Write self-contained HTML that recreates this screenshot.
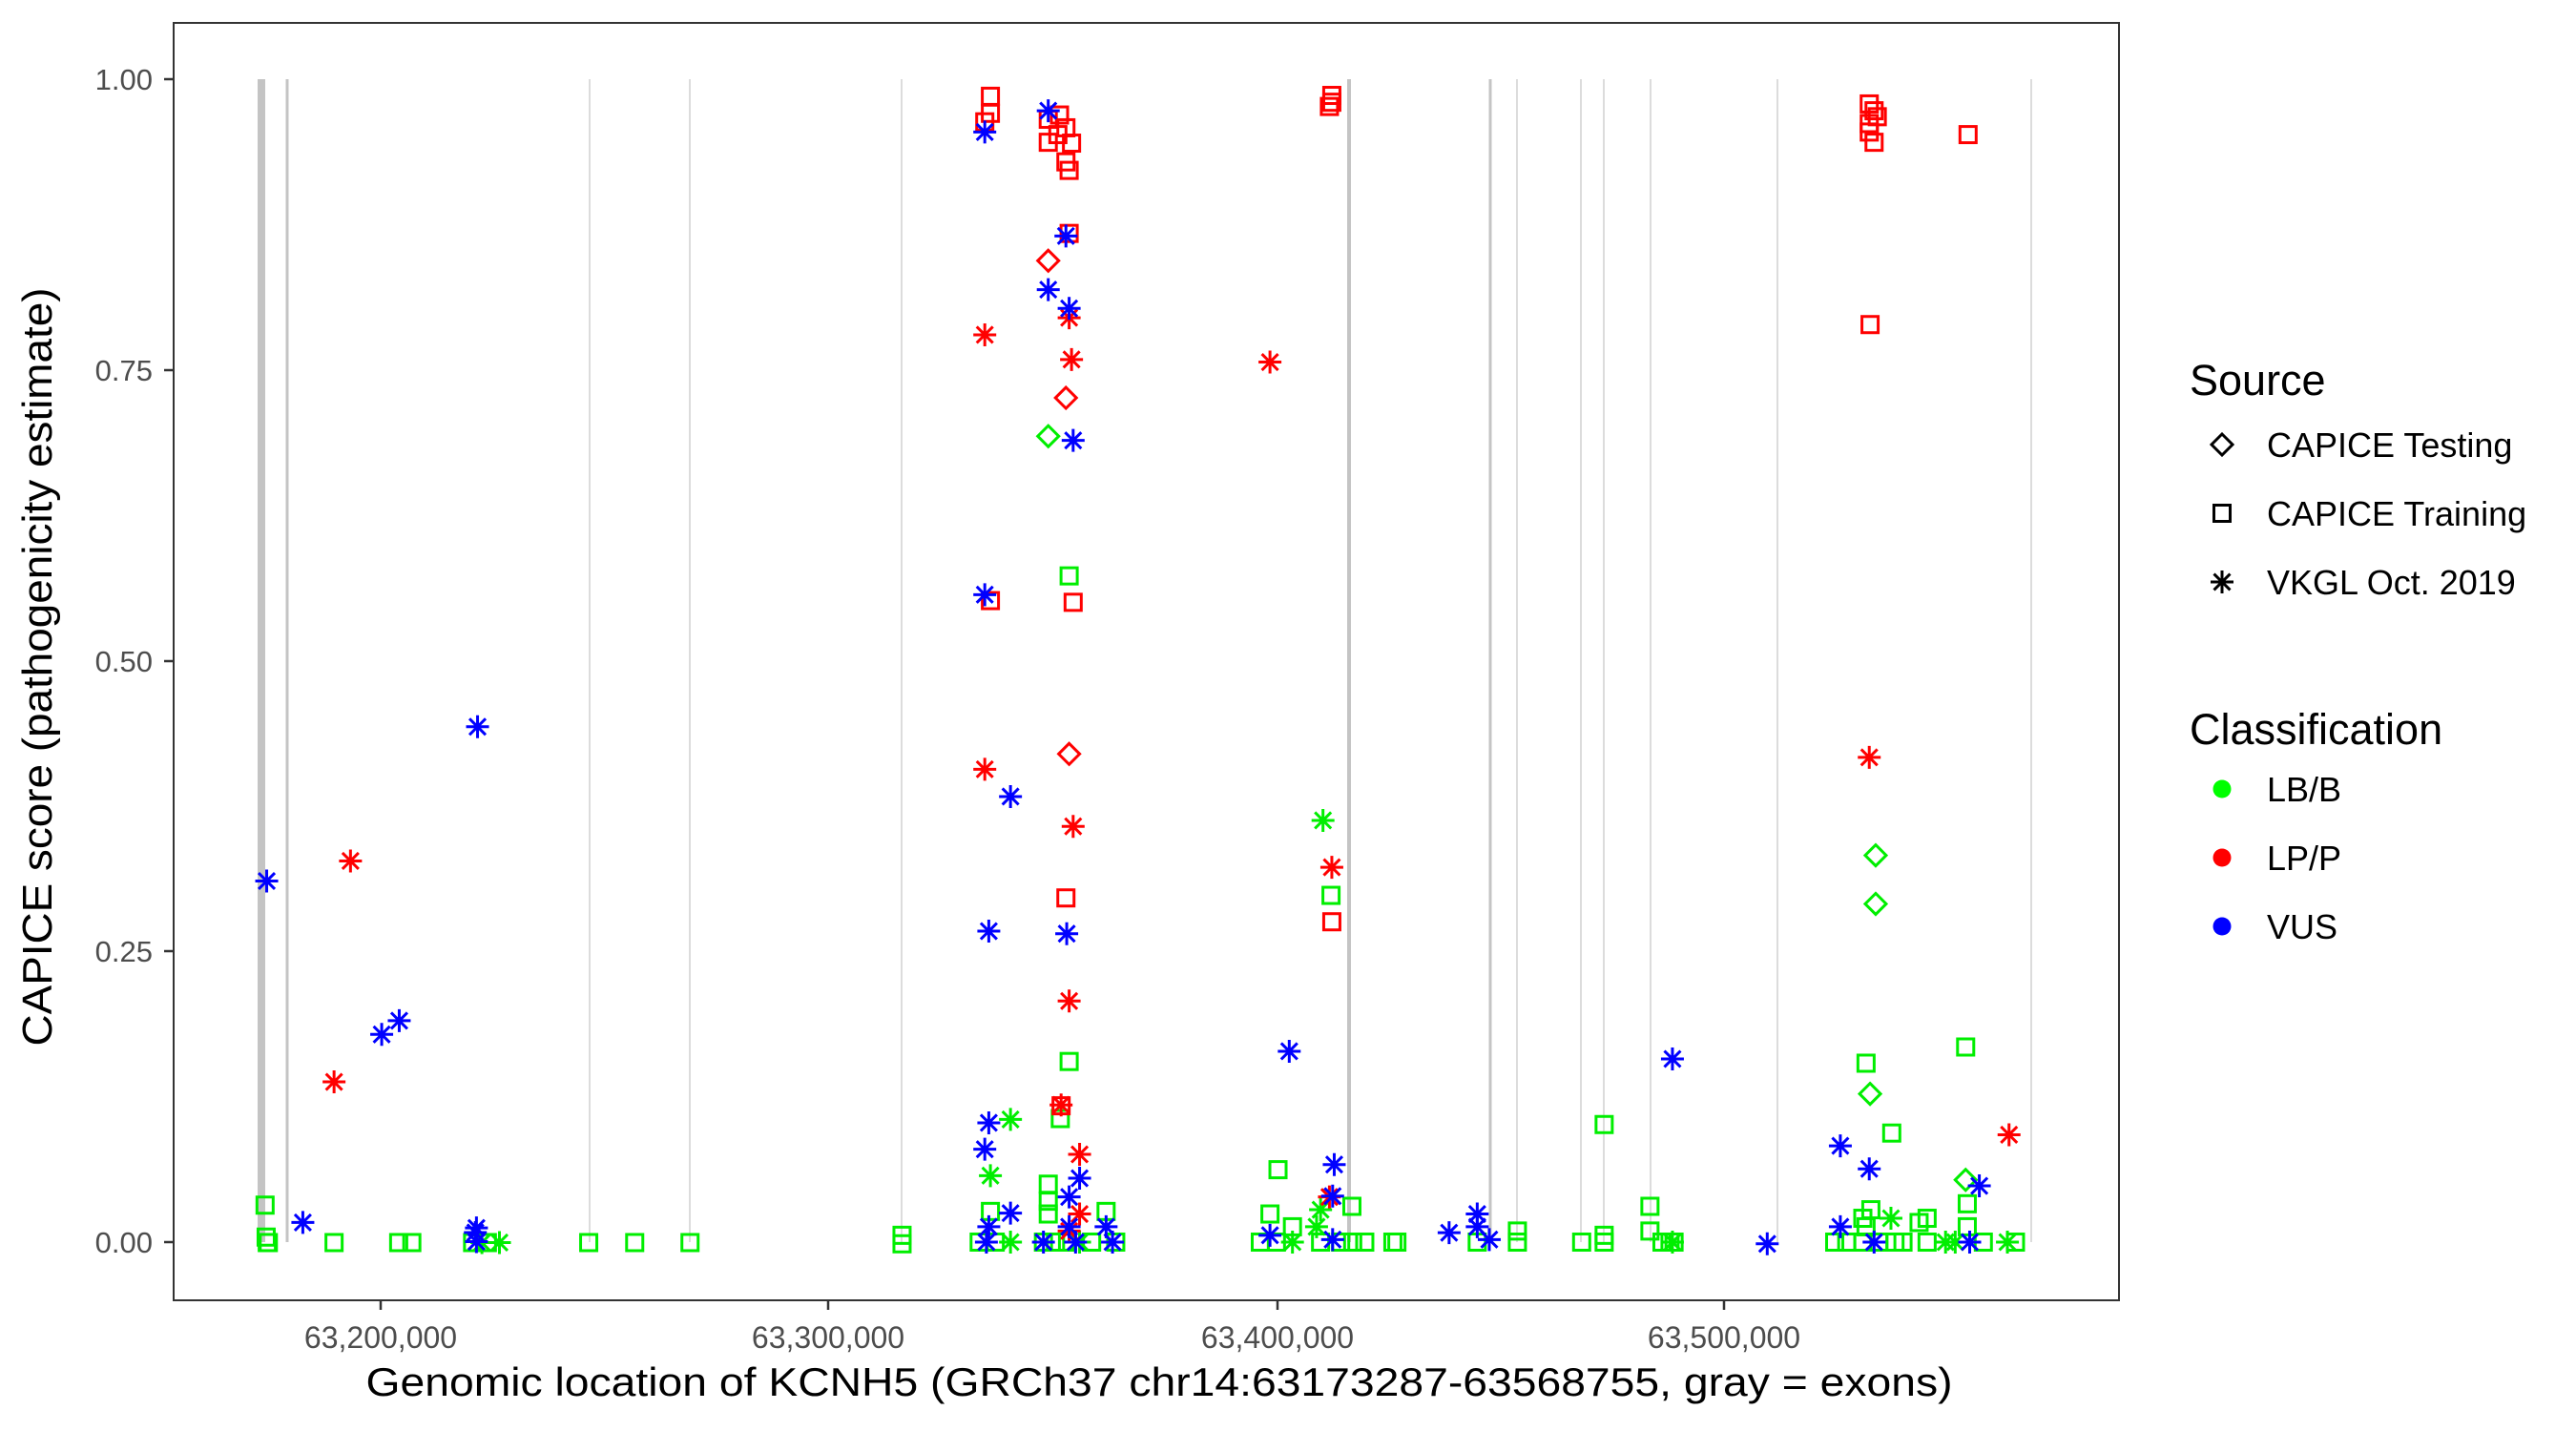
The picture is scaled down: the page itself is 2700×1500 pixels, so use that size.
<!DOCTYPE html>
<html><head><meta charset="utf-8"><style>html,body{margin:0;padding:0;background:#fff}svg{display:block}</style></head>
<body>
<svg id="s" xmlns="http://www.w3.org/2000/svg" width="2700" height="1500" viewBox="0 0 2700 1500" font-family="Liberation Sans, sans-serif">
<rect width="2700" height="1500" fill="#fff"/>
<g id="ex" fill="#c8c8c8"></g>
<g id="pts" fill="none" stroke-width="3"></g>
<rect x="182" y="24" width="2039" height="1339" fill="none" stroke="#333" stroke-width="2"/>
<g stroke="#333" stroke-width="2.5">
<line x1="172" x2="182" y1="83" y2="83"/><line x1="172" x2="182" y1="388" y2="388"/><line x1="172" x2="182" y1="693" y2="693"/><line x1="172" x2="182" y1="997" y2="997"/><line x1="172" x2="182" y1="1302" y2="1302"/>
<line x1="399" x2="399" y1="1363" y2="1373"/><line x1="868" x2="868" y1="1363" y2="1373"/><line x1="1339" x2="1339" y1="1363" y2="1373"/><line x1="1807" x2="1807" y1="1363" y2="1373"/>
</g>
<g font-size="31" fill="#4d4d4d" text-anchor="end">
<text x="160" y="94">1.00</text><text x="160" y="399">0.75</text><text x="160" y="704">0.50</text><text x="160" y="1008">0.25</text><text x="160" y="1313">0.00</text>
</g>
<g font-size="32" fill="#4d4d4d" text-anchor="middle">
<text x="399" y="1413">63,200,000</text><text x="868" y="1413">63,300,000</text><text x="1339" y="1413">63,400,000</text><text x="1807" y="1413">63,500,000</text>
</g>
<text x="1215" y="1463" font-size="42" text-anchor="middle" textLength="1663" lengthAdjust="spacingAndGlyphs">Genomic location of KCNH5 (GRCh37 chr14:63173287-63568755, gray = exons)</text>
<text transform="translate(54,699) rotate(-90)" font-size="44" text-anchor="middle" textLength="795" lengthAdjust="spacingAndGlyphs">CAPICE score (pathogenicity estimate)</text>
<text x="2295" y="414" font-size="45">Source</text>
<g font-size="36"><text x="2376" y="479">CAPICE Testing</text><text x="2376" y="551">CAPICE Training</text><text x="2376" y="623">VKGL Oct. 2019</text></g>
<text x="2295" y="780" font-size="45">Classification</text>
<g font-size="36"><text x="2376" y="840">LB/B</text><text x="2376" y="912">LP/P</text><text x="2376" y="984">VUS</text></g>
<circle cx="2329" cy="827" r="9.5" fill="#00ff00"/><circle cx="2329" cy="899" r="9.5" fill="#ff0000"/><circle cx="2329" cy="971" r="9.5" fill="#0000ff"/>
<g id="leg" fill="none" stroke="#000" stroke-width="3"></g>
</svg>
<script>
const NS="http://www.w3.org/2000/svg";
function el(p,t,a){const e=document.createElementNS(NS,t);for(const k in a)e.setAttribute(k,a[k]);p.appendChild(e);return e;}
const ex=document.getElementById('ex');
[[274,8],[301,3],[618,2],[723,2],[945,2],[1414,4],[1562,3],[1590,2],[1657,2],[1681,2],[1730,2],[1863,2],[2129,2]].forEach(([x,w])=>el(ex,'rect',{x:x-w/2,y:83,width:w,height:1219,fill:w>=3?'#c4c4c4':'#dcdcdc'}));
function mark(g,type,x,y,c){
 if(type=='s')el(g,'rect',{x:x-8.5,y:y-8.5,width:17,height:17,stroke:c});
 else if(type=='d')el(g,'path',{d:`M${x} ${y-11}L${x+11} ${y}L${x} ${y+11}L${x-11} ${y}Z`,stroke:c});
 else{let d='';for(const a of [0,45,90,135]){const r=a*Math.PI/180,dx=12*Math.cos(r),dy=12*Math.sin(r);d+=`M${x-dx} ${y-dy}L${x+dx} ${y+dy}`;}
  el(g,'path',{d:d,stroke:c});}
}
const G='#00ee00',R='#ff0000',B='#0000ff';
const pts=document.getElementById('pts');
const L=(zx,zy)=>[zx*0.574,zy*0.957], M=(zx,zy)=>[900+zx*0.842,zy*0.893];
function add(conv,type,c,list){list.forEach(([a,b])=>{const[x,y]=conv(a,b);mark(pts,type,x,y,c);});}
add(L,'s',G,[[484,1320],[486,1355],[488,1361],[490,1361],[610,1361],[728,1361],[752,1361],[1075,1361],[1159,1361],[1260,1361],[863,1361],[890,1361]]);
add(L,'a',G,[[912,1361],[880,1361]]);
add(L,'a',B,[[487,965],[553,1339],[697,1133],[729,1118],[872,796],[870,1345],[870,1360],[868,1350]]);
add(L,'a',R,[[640,943],[610,1185]]);
const gsq=[[262,676],[262,1246],[251,1313],[236,1390],[236,1410],[236,1425],[164,1422],[308,1422],[522,1373],[512,1425],[540,1440],[614,1416],[588,1051],[928,1320],[985,1416],[985,1445],[1254,1248],[1378,1229],[1286,1330],[1380,1413],[1380,1440],[1330,1430],[1320,1435],[1260,1420],[1250,1430],[1254,1440],[54,1450],[54,1460],[820,1445],[928,1450]];
[150,170,230,245,260,290,320,500,520,575,600,615,630,665,670,770,820,900,928,1000,1010,1015,1215,1230,1250,1270,1290,1300,1330,1400,1440].forEach(x=>gsq.push([x,1458]));
add(M,'s',G,gsq);
add(M,'a',G,[[189,1314],[164,1380],[578,963],[575,1420],[570,1440],[1285,1430],[1353,1458],[1365,1458],[1430,1458],[1013,1458],[540,1458],[189,1458],[275,1458]]);
add(M,'d',G,[[236,512],[1266,1004],[1266,1061],[1259,1284],[1378,1385]]);
add(M,'s',R,[[164,113],[164,133],[157,143],[236,140],[250,135],[258,150],[248,158],[236,167],[265,168],[258,190],[262,200],[262,274],[164,705],[267,707],[258,1054],[252,1298],[589,112],[589,120],[586,125],[1258,122],[1264,130],[1268,137],[1258,145],[1258,155],[1264,167],[1381,158],[1259,381],[589,1082]]);
add(M,'d',R,[[236,306],[258,467],[262,885]]);
add(M,'a',R,[[157,393],[262,373],[265,422],[157,903],[267,970],[262,1175],[252,1297],[275,1355],[275,1425],[262,1445],[512,425],[589,1018],[1258,889],[1432,1332],[586,1405]]);
add(M,'a',B,[[157,155],[236,130],[258,277],[236,340],[262,362],[267,517],[157,698],[189,935],[162,1093],[259,1096],[162,1318],[157,1349],[275,1383],[262,1405],[189,1424],[162,1440],[159,1458],[262,1440],[308,1440],[316,1458],[536,1234],[592,1367],[590,1404],[512,1450],[590,1455],[735,1447],[770,1425],[770,1440],[785,1455],[1013,1243],[1131,1460],[1222,1345],[1258,1372],[1395,1392],[1222,1440],[1264,1458],[1383,1458],[230,1458],[270,1458]]);
const leg=document.getElementById('leg');
mark(leg,'d',2329,466,'#000');mark(leg,'s',2329,538,'#000');mark(leg,'a',2329,610,'#000');
</script>
</body></html>
